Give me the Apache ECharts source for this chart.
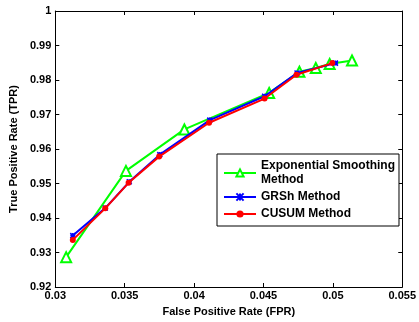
<!DOCTYPE html>
<html><head><meta charset="utf-8">
<script src="https://cdn.jsdelivr.net/npm/echarts@6/dist/echarts.min.js"></script>
<style>html,body{margin:0;padding:0;background:#fff}#c{width:419px;height:322px}</style>
</head><body><div id="c"></div>
<script>
const seriesNames = ["Exponential Smoothing\nMethod", "GRSh Method", "CUSUM Method"];
const expFPR = [0.03078, 0.03509, 0.03930, 0.04541, 0.04759, 0.04877, 0.04977, 0.05138];
const expTPR = [0.92865, 0.95365, 0.96567, 0.97625, 0.98240, 0.98346, 0.98462, 0.98567];
const grshFPR = [0.03126, 0.03360, 0.03533, 0.03753, 0.04113, 0.04508, 0.04742, 0.05019];
const grshTPR = [0.93490, 0.94288, 0.95048, 0.95837, 0.96837, 0.97529, 0.98202, 0.98490];
const cusumFPR = [0.03126, 0.03360, 0.03528, 0.03748, 0.04108, 0.04508, 0.04738, 0.04996];
const cusumTPR = [0.93365, 0.94279, 0.95019, 0.95779, 0.96760, 0.97462, 0.98154, 0.98490];

const zip = (a, b) => a.map((v, i) => [v, b[i]]);
const font = 'Liberation Sans, Arial, Helvetica, sans-serif';
const chart = echarts.init(document.getElementById('c'), null, {renderer: 'canvas'});
const axisCommon = {
  axisLine: {show: true, onZero: false, lineStyle: {color: '#000', width: 1}},
  axisTick: {show: true, inside: true, length: 4, lineStyle: {color: '#000'}},
  splitLine: {show: false},
  axisLabel: {color: '#000', fontWeight: 'bold', fontSize: 11, fontFamily: font}
};
chart.setOption({
  animation: false,
  backgroundColor: '#fff',
  grid: {left: 53, right: 14, top: 11, bottom: 34, show: false},
  xAxis: [
    Object.assign({type: 'value', min: 0.03, max: 0.055, interval: 0.005,
      name: 'False Positive Rate (FPR)', nameLocation: 'middle', nameGap: 19,
      nameTextStyle: {color: '#000', fontWeight: 'bold', fontSize: 11, fontFamily: font}}, axisCommon,
      {axisLabel: Object.assign({}, axisCommon.axisLabel, {margin: 3})}),
    Object.assign({type: 'value', position: 'top', min: 0.03, max: 0.055, interval: 0.005}, axisCommon,
      {axisLabel: {show: false}})
  ],
  yAxis: [
    Object.assign({type: 'value', min: 0.92, max: 1, interval: 0.01,
      name: 'True Positive Rate (TPR)', nameLocation: 'middle', nameGap: 36,
      nameTextStyle: {color: '#000', fontWeight: 'bold', fontSize: 11, fontFamily: font}}, axisCommon,
      {axisLabel: Object.assign({}, axisCommon.axisLabel, {margin: 4})}),
    Object.assign({type: 'value', position: 'right', min: 0.92, max: 1, interval: 0.01}, axisCommon,
      {axisLabel: {show: false}})
  ],
  legend: {
    left: 217, top: 154,
    orient: 'vertical',
    backgroundColor: '#fff', borderColor: '#000', borderWidth: 1, borderRadius: 0,
    padding: [5, 4, 5, 6], itemGap: 3, itemWidth: 32, itemHeight: 9,
    textStyle: {color: '#000', fontWeight: 'bold', fontSize: 12, fontFamily: font, lineHeight: 14},
    data: seriesNames
  },
  series: [
    {name: seriesNames[0], type: 'line', data: zip(expFPR, expTPR), z: 2,
      symbol: 'triangle', symbolSize: 10, showAllSymbol: true,
      lineStyle: {color: '#00ff00', width: 2},
      itemStyle: {color: '#fff', borderColor: '#00ff00', borderWidth: 2}, color: '#00ff00'},
    {name: seriesNames[1], type: 'line', data: zip(grshFPR, grshTPR), z: 3,
      symbol: 'path://M0,0L10,10M10,0L0,10M5,0L5,10M0,5L10,5', symbolSize: 5, showAllSymbol: true,
      lineStyle: {color: '#0000ff', width: 2},
      itemStyle: {color: '#0000ff', borderColor: '#0000ff', borderWidth: 1.5}, color: '#0000ff'},
    {name: seriesNames[2], type: 'line', data: zip(cusumFPR, cusumTPR), z: 4,
      symbol: 'circle', symbolSize: 6, showAllSymbol: true,
      lineStyle: {color: '#ff0000', width: 2},
      itemStyle: {color: '#ff0000', borderColor: '#ff0000', borderWidth: 0}, color: '#ff0000'}
  ]
});
</script></body></html>
